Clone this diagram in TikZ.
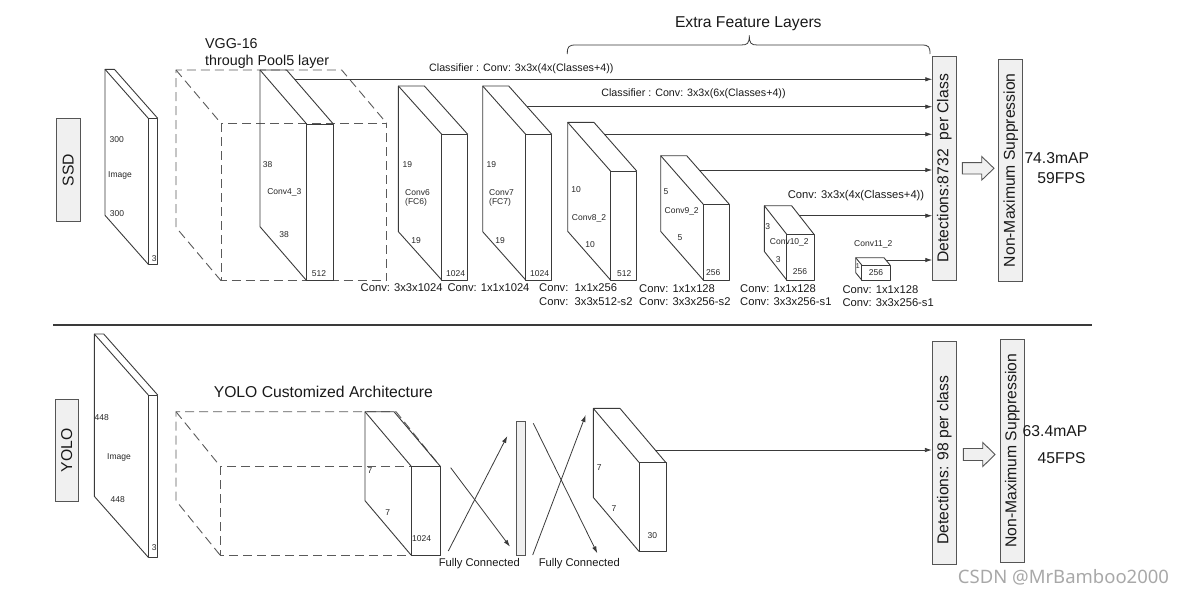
\documentclass[tikz,border=0pt]{standalone}
\usepackage{fontspec}
\setmainfont{Liberation Sans}
\newfontfamily\wmfont{Noto Sans}
\usepackage{graphicx}
\usetikzlibrary{arrows.meta,calc}
\definecolor{lc}{HTML}{3A3A3A}
\definecolor{bc}{HTML}{555555}
\definecolor{gf}{HTML}{F0F0F0}
\definecolor{dc}{HTML}{5A5A5A}
\definecolor{wm}{HTML}{A8A8A8}
\tikzset{
  ln/.style={draw=lc, line width=0.9pt, line join=round},
  dbox/.style={draw=dc, line width=0.9pt, dash pattern=on 9pt off 5pt},
  gbox/.style={draw=bc, fill=gf, line width=0.9pt, inner sep=0pt},
  conn/.style={draw=lc, line width=0.8pt, -{Latex[length=7pt,width=4.5pt]}},
  sm/.style={font=\fontsize{8.5}{9}\selectfont, inner sep=0pt, text=black!85},
  tiny/.style={font=\fontsize{7}{8}\selectfont, inner sep=0pt, text=black!85},
  md/.style={font=\fontsize{11.2}{12}\selectfont, inner sep=0pt, text=black!90},
  mdc/.style={font=\fontsize{10.7}{12}\selectfont, inner sep=0pt, text=black!90},
  lg/.style={font=\fontsize{15.7}{17}\selectfont, inner sep=0pt, text=black!90},
  hollow/.style={draw=bc, fill=gf, line width=0.9pt, line join=miter},
}
% #1 style, #2 name, #3 fx1, #4 fy1, #5 fx2, #6 fy2, #7 dx, #8 dy
\newcommand\mkslab[8][ln]{%
  \coordinate (#2-ftl) at (#3,#4);
  \coordinate (#2-ftr) at (#5,#4);
  \coordinate (#2-fbl) at (#3,#6);
  \coordinate (#2-fbr) at (#5,#6);
  \coordinate (#2-btl) at ({#3-#7},{#4-#8});
  \coordinate (#2-btr) at ({#5-#7},{#4-#8});
  \coordinate (#2-bbl) at ({#3-#7},{#6-#8});
  \draw[#1] (#2-ftl) rectangle (#2-fbr);
  \draw[#1] (#2-fbl) -- (#2-bbl) -- (#2-btl) -- (#2-btr) -- (#2-ftr);
  \draw[#1] (#2-btl) -- (#2-ftl);
}
\newcommand\harrow[2]{% start coordinate name, half body
  \draw[hollow] ($(#1)+(0,-#2)$) -- ++(19.4,0) -- ++(0,-6.1) -- ($(#1)+(31.7,0)$)
     -- ($(#1)+(19.4,{#2+6.1})$) -- ++(0,-6.1) -- ($(#1)+(0,#2)$) -- cycle;
}
\begin{document}
\begin{tikzpicture}[x=1pt,y=-1pt]
\useasboundingbox (0,0) rectangle (1187,595);

%%%%%%%%%%%%%%%% SSD %%%%%%%%%%%%%%%%
\node[gbox, minimum width=23.3pt, minimum height=103.4pt, lg] (ssdlab) at (68.3,170) {\rotatebox{90}{SSD}};

% input image
\mkslab{simg}{148.3}{118.3}{157.7}{264.3}{43.3}{49}
\node[sm] (t1) at (116.7,140) {300};
\node[sm] (t2) at (120,175) {Image};
\node[sm] (t3) at (117,213.3) {300};
\node[sm] (t4) at (154.3,259) {3};

% VGG dashed
\mkslab[dbox]{vgg}{221}{123.3}{386.7}{280.7}{45}{53.3}
\node[lg, font=\fontsize{14.3}{16}\selectfont, anchor=west] (vgg1) at (205,44) {VGG-16};
\node[lg, font=\fontsize{14.3}{16}\selectfont, anchor=west] (vgg2) at (205,61.7) {through Pool5 layer};

% Conv4_3
\mkslab{c43}{306.7}{124}{333.3}{280.7}{46.7}{54}
\node[sm] (t5) at (267.7,165) {38};
\node[sm] (t6) at (284.3,192.3) {Conv4\_3};
\node[sm] (t7) at (284,234.3) {38};
\node[sm] (t8) at (319,274) {512};

% Conv6
\mkslab{c6}{441.7}{134.3}{467.7}{280}{43.3}{48.3}
\node[sm] (t9) at (407.3,165) {19};
\node[sm, anchor=west] (t10) at (405,192.3) {Conv6};
\node[sm, anchor=west] (t11) at (405,202.6) {(FC6)};
\node[sm] (t12) at (416,240.7) {19};
\node[sm] (t13) at (455.7,274) {1024};

% Conv7
\mkslab{c7}{525.7}{134.3}{551.7}{280}{43}{48.3}
\node[sm] (t14) at (491.3,165) {19};
\node[sm, anchor=west] (t15) at (489,192.3) {Conv7};
\node[sm, anchor=west] (t16) at (489,202.6) {(FC7)};
\node[sm] (t17) at (500,240.7) {19};
\node[sm] (t18) at (539.7,274) {1024};

% Conv8_2
\mkslab{c8}{610.5}{171}{636.7}{280}{42.8}{48.7}
\node[sm] (t19) at (576,190) {10};
\node[sm] (t20) at (589,218.3) {Conv8\_2};
\node[sm] (t21) at (590,245) {10};
\node[sm] (t22) at (624.3,273.3) {512};

% Conv9_2
\mkslab{c9}{703.3}{204.3}{729.3}{280}{42.6}{48.6}
\node[sm] (t23) at (666,191.7) {5};
\node[sm] (t24) at (681.7,211) {Conv9\_2};
\node[sm] (t25) at (680,237.7) {5};
\node[sm] (t26) at (713.3,272.7) {256};

% Conv10_2
\mkslab{c10}{786.7}{234.3}{814}{280}{22.4}{28.6}
\node[sm] (t27) at (767.7,226.7) {3};
\node[sm] (t28) at (789.3,242.7) {Conv10\_2};
\node[sm] (t29) at (778.3,259.3) {3};
\node[sm] (t30) at (800,271.7) {256};

% Conv11_2
\mkslab{c11}{861.7}{265}{890}{280}{6}{7.3}
\node[sm] (t31) at (873.3,244.3) {Conv11\_2};
\node[tiny] (t32) at (857.9,265.9) {1};
\node[sm] (t33) at (876,272.7) {256};

% bottom conv labels
\node[md] (b1) at (401.7,287.5) {Conv: 3x3x1024};
\node[md] (b2) at (488.5,287.5) {Conv: 1x1x1024};
\node[md, anchor=west] (b3) at (539,287.5) {Conv:\ \ 1x1x256};
\node[md, anchor=west] (b4) at (539,301.3) {Conv:\ \ 3x3x512-s2};
\node[md, anchor=west] (b5) at (639,288.3) {Conv: 1x1x128};
\node[md, anchor=west] (b6) at (639,301.7) {Conv: 3x3x256-s2};
\node[md, anchor=west] (b7) at (740,288.3) {Conv: 1x1x128};
\node[md, anchor=west] (b8) at (740,301.7) {Conv: 3x3x256-s1};
\node[md, anchor=west] (b9) at (842.3,289.3) {Conv: 1x1x128};
\node[md, anchor=west] (b10) at (842.3,302.3) {Conv: 3x3x256-s1};

% detections & NMS
\node[gbox, minimum width=23.3pt, minimum height=223.3pt, lg] (ssddet) at (944.35,168.35) {\rotatebox{90}{Detections:8732\ \ per Class}};
\node[gbox, minimum width=24pt, minimum height=221.7pt, lg] (ssdnms) at (1010.7,170.2) {\rotatebox{90}{Non-Maximum Suppression}};
\coordinate (ssdha) at ($(ssddet.east)!0.5!(ssdnms.west)+(-15.85,0)$);
\coordinate (ssdha) at (962.3,168.3);
\harrow{ssdha}{5.7}
\node[lg] (ssdmap) at (1056.8,158.3) {74.3mAP};
\node[lg] (ssdfps) at (1061.3,178.3) {59FPS};

% connectors
\coordinate (o43) at ($(c43-btr)!0.172!(c43-ftr)$);
\coordinate (o7)  at ($(c7-btr)!0.4286!(c7-ftr)$);
\coordinate (o8)  at ($(c8-btr)!0.246!(c8-ftr)$);
\coordinate (o9)  at ($(c9-btr)!0.294!(c9-ftr)$);
\coordinate (o10) at ($(c10-btr)!0.35!(c10-ftr)$);
\coordinate (o11) at ($(c11-btr)!0.315!(c11-ftr)$);
\foreach \o in {o43,o7,o8,o9,o10,o11}
  \draw[conn] (\o) -- (\o -| ssddet.west);

\node[mdc] (cl1) at (521.3,68.3) {Classifier : Conv: 3x3x(4x(Classes+4))};
\node[mdc] (cl2) at (693.5,93.3) {Classifier : Conv: 3x3x(6x(Classes+4))};
\node[md] (cl3) at (856,195.7) {Conv: 3x3x(4x(Classes+4))};

% brace
\coordinate (brl) at (567.3,54);
\coordinate (brr) at (930,54);
\coordinate (brt) at (749.3,35.5);
\draw[ln, line width=0.8pt] (brl) .. controls (567.3,46.5) and (568.5,45) .. (576,45) -- (741,45)
  .. controls (747.5,45) and (749.3,43.5) .. (brt)
  .. controls (749.3,43.5) and (751.1,45) .. (757.6,45) -- (921.3,45)
  .. controls (928.8,45) and (930,46.5) .. (brr);
\node[lg] (efl) at (748.3,23.3) {Extra Feature Layers};

% separator
\coordinate (sepl) at (53,325);
\coordinate (sepr) at (1092,325);
\draw[draw=lc, line width=2.2pt] (sepl) -- (sepr);

%%%%%%%%%%%%%%%% YOLO %%%%%%%%%%%%%%%%
\node[gbox, minimum width=23.3pt, minimum height=102.7pt, lg] (yololab) at (66.7,450.3) {\rotatebox{90}{YOLO}};

\mkslab{yimg}{148.3}{395}{157.7}{557.3}{54}{61}
\node[sm] (y1) at (101.7,417.3) {448};
\node[sm] (y2) at (119,457.7) {Image};
\node[sm] (y3) at (117.7,500) {448};
\node[sm] (y4) at (154.3,547.3) {3};

\node[lg] (yca) at (323.3,391.7) {YOLO Customized Architecture};
\mkslab[dbox]{ybox}{220}{466}{440}{555}{44}{54.3}
\mkslab{yc}{411}{466}{440}{555}{46}{54.3}
\node[sm] (y5) at (370,470.7) {7};
\node[sm] (y6) at (387.7,512.3) {7};
\node[sm] (y7) at (421.7,539) {1024};

% FC bar
\node[gbox, minimum width=8.3pt, minimum height=134pt] (fc) at (520.85,488) {};

% crossing arrows
\coordinate (fa1) at (448.3,551);   \coordinate (fa2) at (507.3,436);
\coordinate (fb1) at (450.7,467.7); \coordinate (fb2) at (510,546.7);
\coordinate (fc1) at (532.7,555);   \coordinate (fc2) at (585.7,415);
\coordinate (fd1) at (533.3,423.3); \coordinate (fd2) at (597.3,553.3);
\draw[conn] (fa1) -- (fa2);
\draw[conn] (fb1) -- (fb2);
\draw[conn] (fc1) -- (fc2);
\draw[conn] (fd1) -- (fd2);
\node[md] (fcl1) at (479.3,563.3) {Fully Connected};
\node[md] (fcl2) at (579.3,563.3) {Fully Connected};

% output 7x7x30
\mkslab{yo}{639.3}{462.7}{666}{551.7}{46}{54.3}
\node[sm] (y8) at (599.3,467.3) {7};
\node[sm] (y9) at (614,509) {7};
\node[sm] (y10) at (652.3,535.7) {30};

\node[gbox, minimum width=23.7pt, minimum height=223.3pt, lg] (yolodet) at (944.2,452.7) {\raisebox{0pt}{\rotatebox{90}{Detections: 98 per class\hspace{15pt}}}};
\node[gbox, minimum width=24.3pt, minimum height=223.3pt, lg] (yolonms) at (1012.2,450.7) {\rotatebox{90}{Non-Maximum Suppression}};
\coordinate (yoloha) at (963.3,454.5);
\harrow{yoloha}{6}
\node[lg] (yolomap) at (1055,430.7) {63.4mAP};
\node[lg] (yolofps) at (1061.7,458.3) {45FPS};

\coordinate (oyo) at ($(yo-btr)!0.766!(yo-ftr)$);
\draw[conn] (oyo) -- (oyo -| yolodet.west);

% watermark
\node[inner sep=0pt, text=wm, font=\wmfont\fontsize{18.5}{20}\selectfont] (wmk) at (1063.5,577) {CSDN @MrBamboo2000};
\end{tikzpicture}
\end{document}
